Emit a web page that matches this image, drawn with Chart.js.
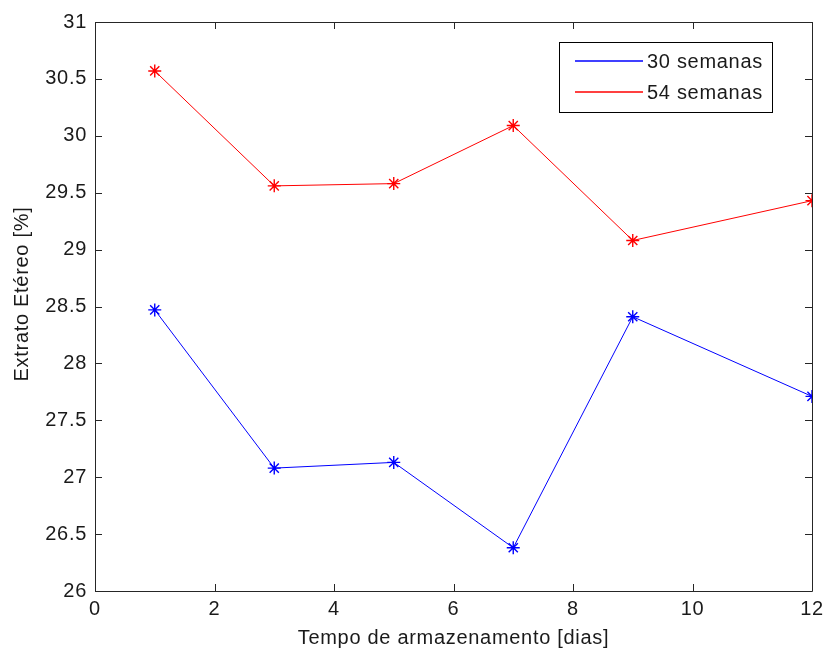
<!DOCTYPE html>
<html>
<head>
<meta charset="utf-8">
<script src="https://cdn.jsdelivr.net/npm/chart.js@4/dist/chart.umd.min.js"></script>
<style>
    html, body { margin: 0; padding: 0; background: #fff; }
    #wrap { width: 828px; height: 651px; }
</style>
</head>
<body>
<div id="wrap"><canvas id="chart" width="828" height="651"></canvas></div>
<script>
const dias = [1, 3, 5, 7, 9, 12];
const semanas30 = [28.47, 27.08, 27.13, 26.38, 28.41, 27.71];
const semanas54 = [30.57, 29.56, 29.58, 30.09, 29.08, 29.43];
const seriesLabels = ['30 semanas', '54 semanas'];
const seriesColors = ['#0000ff', '#ff0000'];
const xTicks = [0, 2, 4, 6, 8, 10, 12];
const yTicks = [26, 26.5, 27, 27.5, 28, 28.5, 29, 29.5, 30, 30.5, 31];
const xTitle = 'Tempo de armazenamento [dias]';
const yTitle = 'Extrato Etéreo [%]';

const FONT = 'Liberation Sans, Arial, sans-serif';
const TEXT = '#1a1a1a';

function toPoints(xs, ys) {
    return xs.map((x, i) => ({ x: x, y: ys[i] }));
}

function spacing(chart) {
    chart.ctx.letterSpacing = '0.7px';
}

// matlab style box: inward ticks on all sides, y label and a legend box
const matlabBox = {
    id: 'matlabBox',
    beforeUpdate: spacing,
    beforeLayout: spacing,
    beforeDraw: spacing,
    afterDatasetsDraw(chart) {
        const ctx = chart.ctx;
        const area = chart.chartArea;
        const xs = chart.scales.x;
        const ys = chart.scales.y;
        const len = 7;

        ctx.save();
        ctx.strokeStyle = '#262626';
        ctx.lineWidth = 1;
        ctx.beginPath();
        ctx.rect(area.left + 0.5, area.top + 0.5, area.right - area.left, area.bottom - area.top);
        for (const v of xTicks) {
            const px = Math.round(xs.getPixelForValue(v)) + 0.5;
            ctx.moveTo(px, area.bottom);
            ctx.lineTo(px, area.bottom - len);
            ctx.moveTo(px, area.top);
            ctx.lineTo(px, area.top + len);
        }
        for (const v of yTicks) {
            const py = Math.round(ys.getPixelForValue(v)) + 0.5;
            ctx.moveTo(area.left, py);
            ctx.lineTo(area.left + len, py);
            ctx.moveTo(area.right, py);
            ctx.lineTo(area.right - len, py);
        }
        ctx.stroke();

        // y axis label
        ctx.font = '20px ' + FONT;
        ctx.fillStyle = TEXT;
        ctx.textAlign = 'center';
        ctx.textBaseline = 'middle';
        ctx.translate(22, 294);
        ctx.rotate(-Math.PI / 2);
        ctx.fillText(yTitle, 0, 0);
        ctx.setTransform(1, 0, 0, 1, 0, 0);

        // legend
        const bx = 559.5, by = 42.5, bw = 213, bh = 70;
        ctx.fillStyle = '#fff';
        ctx.fillRect(bx, by, bw, bh);
        ctx.strokeStyle = '#000';
        ctx.strokeRect(bx, by, bw, bh);
        ctx.textAlign = 'left';
        seriesLabels.forEach((label, i) => {
            const cy = Math.round(by + 18 + i * 31);
            ctx.strokeStyle = seriesColors[i];
            ctx.lineWidth = 1.5;
            ctx.beginPath();
            ctx.moveTo(575, cy);
            ctx.lineTo(643, cy);
            ctx.stroke();
            ctx.fillStyle = TEXT;
            ctx.fillText(label, 647, cy + 1);
        });
        ctx.restore();
    }
};

const chartData = {
    datasets: [
        {
            label: seriesLabels[0],
            data: toPoints(dias, semanas30),
            borderColor: seriesColors[0],
            backgroundColor: seriesColors[0],
            borderWidth: 1,
            pointStyle: 'star',
            pointRadius: 6.5,
            pointBorderWidth: 1.4,
            tension: 0
        },
        {
            label: seriesLabels[1],
            data: toPoints(dias, semanas54),
            borderColor: seriesColors[1],
            backgroundColor: seriesColors[1],
            borderWidth: 1,
            pointStyle: 'star',
            pointRadius: 6.5,
            pointBorderWidth: 1.4,
            tension: 0
        }
    ]
};

const chartConfig = {
    type: 'scatter',
    data: chartData,
    options: {
        responsive: false,
        animation: false,
        showLine: true,
        layout: {
            padding: { top: 22, right: 16, left: 0, bottom: 0 }
        },
        plugins: {
            legend: { display: false },
            tooltip: { enabled: false }
        },
        scales: {
            x: {
                type: 'linear',
                min: 0,
                max: 12,
                afterBuildTicks: (scale) => { scale.ticks = xTicks.map(v => ({ value: v })); },
                grid: { display: false, drawTicks: false },
                border: { display: false },
                ticks: {
                    color: TEXT,
                    font: { family: FONT, size: 20 },
                    padding: 6,
                    maxRotation: 0,
                    callback: (v) => String(v)
                },
                title: {
                    display: true,
                    text: xTitle,
                    color: TEXT,
                    font: { family: FONT, size: 20 },
                    padding: { top: 0, bottom: 1 }
                },
                afterFit: (scale) => {
                    scale.height = 60;
                    scale.paddingLeft = 0;
                    scale.paddingRight = 0;
                }
            },
            y: {
                type: 'linear',
                min: 26,
                max: 31,
                afterBuildTicks: (scale) => { scale.ticks = yTicks.map(v => ({ value: v })); },
                grid: { display: false, drawTicks: false },
                border: { display: false },
                ticks: {
                    color: TEXT,
                    font: { family: FONT, size: 20 },
                    padding: 8,
                    callback: (v) => String(v)
                },
                afterFit: (scale) => {
                    scale.width = 95;
                    scale.paddingTop = 0;
                    scale.paddingBottom = 0;
                }
            }
        }
    },
    plugins: [matlabBox]
};

window.mainChart = new Chart(document.getElementById('chart'), chartConfig);
</script>
</body>
</html>
